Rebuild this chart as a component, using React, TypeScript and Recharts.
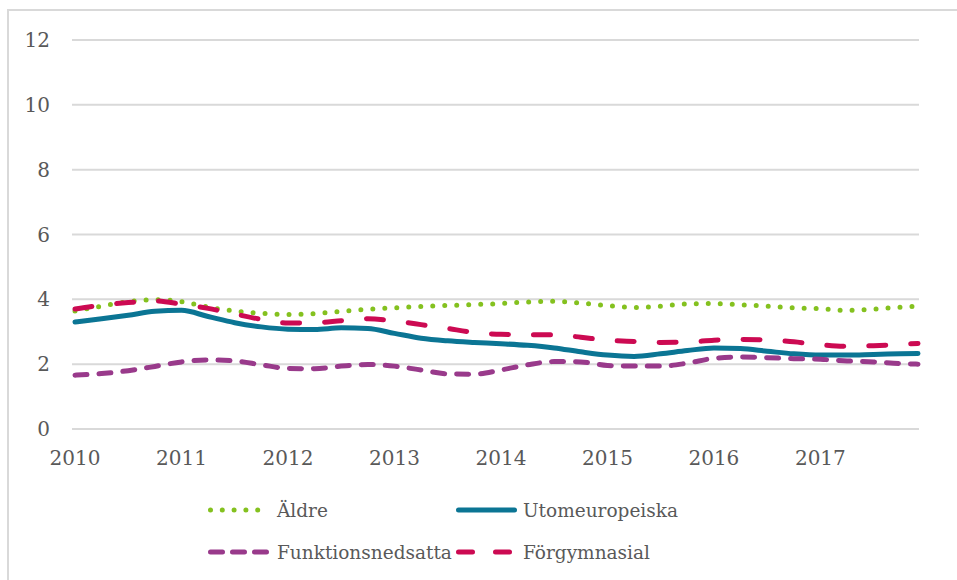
import React from 'react';
import { LineChart, Line, XAxis, YAxis, CartesianGrid } from 'recharts';

// month index since Jan 2010
const months = [0, 3, 6, 9, 12, 15, 18, 21, 24, 27, 30, 33, 36, 39, 42, 45, 48, 51, 54, 57, 60, 63, 66, 69, 72, 75, 78, 81, 84, 87, 90, 93, 95];

const aldre = [3.64, 3.79, 3.93, 3.99, 3.93, 3.76, 3.64, 3.57, 3.53, 3.56, 3.63, 3.69, 3.74, 3.78, 3.81, 3.84, 3.87, 3.92, 3.94, 3.88, 3.81, 3.75, 3.79, 3.86, 3.87, 3.83, 3.79, 3.74, 3.71, 3.66, 3.70, 3.76, 3.79];
const utomeuropeiska = [3.30, 3.40, 3.51, 3.63, 3.66, 3.47, 3.28, 3.15, 3.08, 3.07, 3.12, 3.10, 2.95, 2.80, 2.72, 2.67, 2.63, 2.58, 2.50, 2.38, 2.28, 2.24, 2.32, 2.42, 2.50, 2.48, 2.40, 2.32, 2.28, 2.28, 2.30, 2.32, 2.33];
const funktionsnedsatta = [1.66, 1.71, 1.80, 1.93, 2.07, 2.13, 2.10, 1.98, 1.87, 1.86, 1.94, 1.99, 1.94, 1.82, 1.70, 1.69, 1.82, 1.98, 2.08, 2.07, 1.96, 1.94, 1.94, 2.03, 2.18, 2.22, 2.20, 2.17, 2.15, 2.10, 2.07, 2.02, 2.00];
const forgymnasial = [3.70, 3.82, 3.90, 3.95, 3.85, 3.72, 3.55, 3.38, 3.27, 3.28, 3.34, 3.40, 3.33, 3.22, 3.10, 2.98, 2.92, 2.91, 2.91, 2.83, 2.74, 2.70, 2.67, 2.68, 2.74, 2.76, 2.75, 2.69, 2.60, 2.55, 2.57, 2.61, 2.64];

const yearTicks = [0, 12, 24, 36, 48, 60, 72, 84];
const yearLabels = ['2010', '2011', '2012', '2013', '2014', '2015', '2016', '2017'];
const yTicks = [0, 2, 4, 6, 8, 10, 12];

const seriesKeys = ['aldre', 'utomeuropeiska', 'funktionsnedsatta', 'forgymnasial'];
const seriesNames = ['Äldre', 'Utomeuropeiska', 'Funktionsnedsatta', 'Förgymnasial'];
const seriesValues = [aldre, utomeuropeiska, funktionsnedsatta, forgymnasial];

const seriesStyle: Record<string, { color: string; dash?: string; legendDash?: string }> = {
  aldre: { color: '#84c11f', dash: '0 12', legendDash: '0 11.8' },
  utomeuropeiska: { color: '#0b7594' },
  funktionsnedsatta: { color: '#993a8b', dash: '12 12', legendDash: '12 10' },
  forgymnasial: { color: '#cc0a52', dash: '17 25', legendDash: '14 23' },
};

const data = months.map((m, i) => {
  const row: Record<string, number> = { m };
  seriesKeys.forEach((k, j) => {
    row[k] = seriesValues[j][i];
  });
  return row;
});

const FONT = '"DejaVu Serif", Georgia, serif';
const TEXT = '#595959';

const legendPos = [
  { left: 205, top: 510 },
  { left: 453, top: 510 },
  { left: 205, top: 552 },
  { left: 453, top: 552 },
];

export default function App() {
  return (
    <div style={{ position: 'absolute', left: 0, top: 0, width: 957, height: 580, overflow: 'hidden', background: '#fff' }}>
      <div
        style={{
          position: 'absolute',
          left: 7,
          top: 9,
          width: 1000,
          height: 700,
          borderTop: '2px solid #d9d9d9',
          borderLeft: '2px solid #d9d9d9',
        }}
      />
      <div style={{ position: 'absolute', left: 0, top: 0 }}>
        <LineChart width={957} height={580} data={data} margin={{ top: 40, right: 38, left: 12, bottom: 111 }}>
          <CartesianGrid vertical={false} stroke="#d9d9d9" strokeWidth={2} />
          <XAxis
            dataKey="m"
            type="number"
            domain={[0, 95]}
            ticks={yearTicks}
            tickFormatter={(v: number) => yearLabels[yearTicks.indexOf(v)]}
            axisLine={false}
            tickLine={false}
            height={40}
            padding={{ left: 3, right: 1 }}
            tickMargin={16}
            tick={{ fontSize: 20, fill: TEXT, fontFamily: FONT }}
          />
          <YAxis
            domain={[0, 12]}
            ticks={yTicks}
            axisLine={false}
            tickLine={false}
            width={60}
            tickMargin={16}
            tick={{ fontSize: 20, fill: TEXT, fontFamily: FONT }}
          />
          {seriesKeys.map((k, i) => (
            <Line
              key={k}
              dataKey={k}
              name={seriesNames[i]}
              type="monotone"
              stroke={seriesStyle[k].color}
              strokeWidth={5}
              strokeDasharray={seriesStyle[k].dash}
              strokeLinecap="round"
              dot={false}
              activeDot={false}
              isAnimationActive={false}
            />
          ))}
        </LineChart>
      </div>
      {seriesKeys.map((k, i) => (
        <div
          key={k}
          style={{
            position: 'absolute',
            left: legendPos[i].left,
            top: legendPos[i].top - 14,
            height: 28,
            display: 'flex',
            alignItems: 'center',
            whiteSpace: 'nowrap',
          }}
        >
          <svg width={66} height={12} style={{ display: 'block' }}>
            <line
              x1={5.5}
              x2={k === 'forgymnasial' ? 60 : 61.5}
              y1={6}
              y2={6}
              stroke={seriesStyle[k].color}
              strokeWidth={5}
              strokeLinecap="round"
              strokeDasharray={seriesStyle[k].legendDash}
            />
          </svg>
          <span style={{ marginLeft: k === 'aldre' || k === 'funktionsnedsatta' ? 6 : 4, fontFamily: FONT, fontSize: 18.5, color: TEXT }}>
            {seriesNames[i]}
          </span>
        </div>
      ))}
    </div>
  );
}
